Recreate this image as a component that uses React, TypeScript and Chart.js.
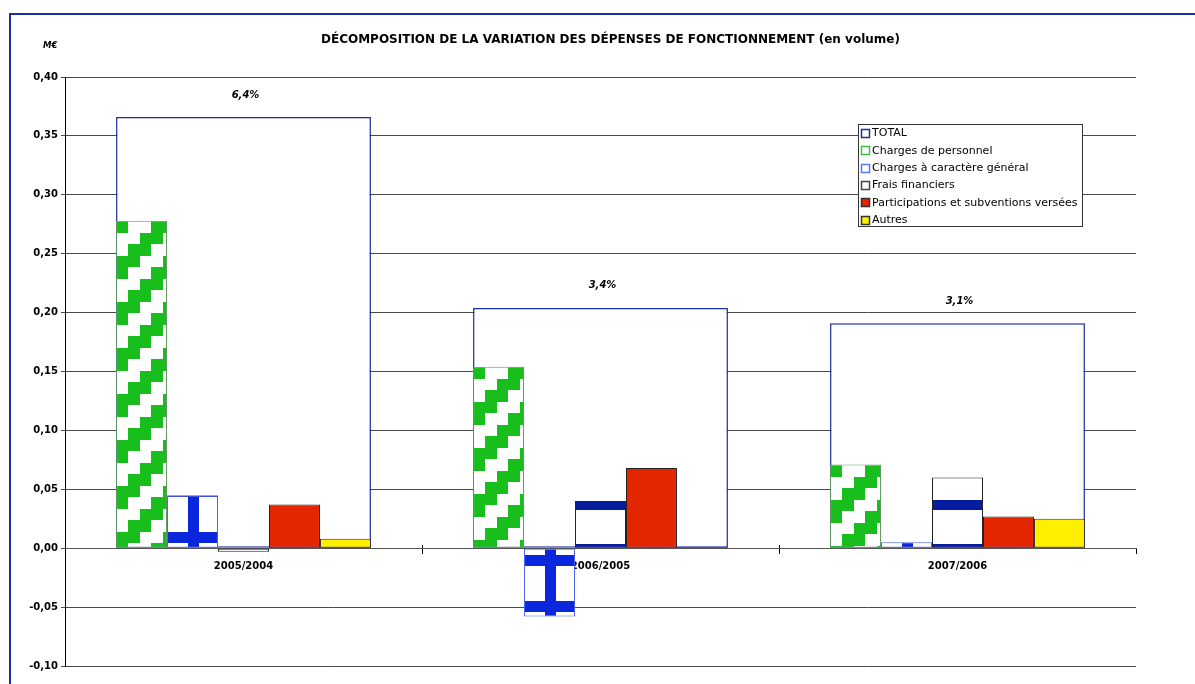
import React, { useEffect, useRef } from 'react';
import { Chart, registerables } from 'chart.js';
Chart.register(...registerables);

const categories = ['2005/2004', '2006/2005', '2007/2006'];
const totalValues = [0.366, 0.204, 0.191];
const totalLabels = ['6,4%', '3,4%', '3,1%'];
const personnelValues = [0.278, 0.154, 0.071];
const generalValues = [0.045, -0.058, 0.005];
const fraisValues = [-0.003, 0.04, 0.06];
const participationsValues = [0.037, 0.068, 0.027];
const autresValues = [0.008, 0.001, 0.025];
const seriesNames = [
  'TOTAL',
  'Charges de personnel',
  'Charges à caractère général',
  'Frais financiers',
  'Participations et subventions versées',
  'Autres',
];
const yMin = -0.1;
const yMax = 0.4;
const yStep = 0.05;
const titleText = 'DÉCOMPOSITION DE LA VARIATION DES DÉPENSES DE FONCTIONNEMENT (en volume)';
const unitText = 'M€';

const NAVY = '#1b2ea3';
const GREEN = '#18bf1c';
const BLUE = '#0b27dd';
const DARKNAVY = '#061c9e';
const RED = '#e42600';
const YELLOW = '#fff000';
const FONT = '"DejaVu Sans", Verdana, sans-serif';

function makeTile(w: number, h: number, draw: (g: CanvasRenderingContext2D) => void) {
  const c = document.createElement('canvas');
  c.width = w;
  c.height = h;
  const g = c.getContext('2d')!;
  g.fillStyle = '#ffffff';
  g.fillRect(0, 0, w, h);
  draw(g);
  return c;
}

export default function App() {
  const ref = useRef<HTMLCanvasElement | null>(null);

  useEffect(() => {
    document.body.style.margin = '0';
    const canvas = ref.current!;

    const tiles: Record<string, HTMLCanvasElement> = {
      stairs: makeTile(46, 46, (g) => {
        g.fillStyle = GREEN;
        const rows = [0, 12, 23, 35, 46];
        const starts = [35, 24, 12, 1];
        for (let r = 0; r < 4; r++) {
          const y0 = rows[r];
          const h = rows[r + 1] - rows[r];
          g.fillRect(starts[r], y0, 23, h);
          g.fillRect(starts[r] - 46, y0, 23, h);
        }
      }),
      cross: makeTile(46, 46, (g) => {
        g.fillStyle = BLUE;
        g.fillRect(0, 30, 46, 11);
        g.fillRect(21, 0, 11, 46);
      }),
      hbands: makeTile(44, 44, (g) => {
        g.fillStyle = DARKNAVY;
        g.fillRect(0, 34, 44, 10);
      }),
    };

    const patternPlugin = {
      id: 'barPatterns',
      beforeDatasetDraw(chart: any, args: any) {
        const ds = chart.data.datasets[args.index];
        const kind = ds.patternKind;
        if (!kind) return;
        const tile = tiles[kind];
        args.meta.data.forEach((el: any) => {
          const p = el.getProps(['x', 'y', 'base', 'width'], true);
          const left = p.x - p.width / 2;
          const top = Math.min(p.y, p.base);
          const bottom = Math.max(p.y, p.base);
          let ty = top;
          if (kind === 'cross') ty = bottom;
          if (kind === 'hbands') ty = p.y > p.base ? top + 20 : p.base + 6;
          const pat = chart.ctx.createPattern(tile, 'repeat');
          pat.setTransform(new DOMMatrix([1, 0, 0, 1, Math.round(left), Math.round(ty)]));
          el.options = Object.assign({}, el.options, { backgroundColor: pat });
        });
      },
    };

    const overlayPlugin = {
      id: 'overlay',
      afterDraw(chart: any) {
        const ctx = chart.ctx as CanvasRenderingContext2D;
        ctx.save();
        // outer frame
        ctx.strokeStyle = NAVY;
        ctx.lineWidth = 2;
        ctx.strokeRect(10, 14, 1300, 800);
        // title
        ctx.fillStyle = '#000';
        ctx.font = `bold 12px ${FONT}`;
        ctx.textAlign = 'left';
        ctx.textBaseline = 'middle';
        ctx.fillText(titleText, 321, 40);
        // unit
        ctx.font = `italic bold 8.5px ${FONT}`;
        ctx.fillText(unitText, 43, 46);
        // total labels
        const meta = chart.getDatasetMeta(0);
        ctx.font = `italic bold 10px ${FONT}`;
        ctx.textAlign = 'center';
        meta.data.forEach((el: any, i: number) => {
          const p = el.getProps(['x', 'y'], true);
          ctx.fillText(totalLabels[i], p.x + 2, p.y - 22);
        });
        // legend
        const lx = 858.5, ly = 124.5, lw = 224, lh = 102;
        ctx.fillStyle = '#fff';
        ctx.fillRect(lx, ly, lw, lh);
        ctx.strokeStyle = '#333';
        ctx.lineWidth = 1;
        ctx.strokeRect(lx, ly, lw, lh);
        const markers = [
          { fill: '#fff', stroke: NAVY },
          { fill: '#fff', stroke: '#3cc43c' },
          { fill: '#fff', stroke: '#5a78ff' },
          { fill: '#fff', stroke: '#444' },
          { fill: RED, stroke: '#333' },
          { fill: YELLOW, stroke: '#333' },
        ];
        ctx.font = `11px ${FONT}`;
        ctx.textAlign = 'left';
        seriesNames.forEach((name, i) => {
          const cy = 133 + i * 17.35;
          const m = markers[i];
          ctx.fillStyle = m.fill;
          ctx.fillRect(861.5, Math.round(cy) - 3.5, 8, 8);
          ctx.strokeStyle = m.stroke;
          ctx.lineWidth = 1.5;
          ctx.strokeRect(861.5, Math.round(cy) - 3.5, 8, 8);
          ctx.fillStyle = '#000';
          ctx.fillText(name, 872, cy + 0.5);
        });
        // x-axis tick marks crossing the axis line
        const xs = chart.scales.x;
        const y0 = chart.scales.y.getPixelForValue(0);
        ctx.strokeStyle = '#000';
        ctx.lineWidth = 1;
        for (let i = 1; i < categories.length; i++) {
          const px = Math.round((xs.getPixelForValue(i - 1) + xs.getPixelForValue(i)) / 2) + 0.5;
          ctx.beginPath();
          ctx.moveTo(px, y0 - 3);
          ctx.lineTo(px, y0);
          ctx.stroke();
        }
        ctx.restore();
      },
    };

    const common = {
      categoryPercentage: 0.714,
      barPercentage: 1,
      borderWidth: 1,
      borderSkipped: false,
      grouped: true,
      order: 0,
    };

    const chart = new Chart(canvas, {
      type: 'bar',
      data: {
        labels: categories,
        datasets: [
          {
            label: seriesNames[0],
            data: totalValues,
            backgroundColor: '#ffffff',
            borderColor: NAVY,
            borderWidth: 1.5,
            borderSkipped: false,
            categoryPercentage: 0.714,
            barPercentage: 1,
            grouped: false,
            order: 1,
          },
          {
            ...common,
            label: seriesNames[1],
            data: personnelValues,
            backgroundColor: GREEN,
            borderColor: '#5f9a5f',
            patternKind: 'stairs',
          },
          {
            ...common,
            label: seriesNames[2],
            data: generalValues,
            backgroundColor: BLUE,
            borderColor: '#4a62f0',
            patternKind: 'cross',
          },
          {
            ...common,
            label: seriesNames[3],
            data: fraisValues,
            backgroundColor: '#ffffff',
            borderColor: '#222',
            patternKind: 'hbands',
          },
          {
            ...common,
            label: seriesNames[4],
            data: participationsValues,
            backgroundColor: RED,
            borderColor: '#222',
          },
          {
            ...common,
            label: seriesNames[5],
            data: autresValues,
            backgroundColor: YELLOW,
            borderColor: '#333',
          },
        ] as any,
      },
      options: {
        responsive: false,
        animation: false,
        devicePixelRatio: 1,
        layout: { padding: { left: 0, top: 77, right: 59, bottom: 18 } },
        plugins: {
          legend: { display: false },
          title: { display: false },
          tooltip: { enabled: false },
        },
        scales: {
          x: {
            type: 'category',
            position: { y: 0 } as any,
            z: 1,
            offset: true,
            grid: {
              display: true,
              drawOnChartArea: false,
              drawTicks: true,
              tickLength: 5,
              color: '#000',
              offset: true,
            },
            border: { display: true, color: '#555', width: 1 },
            ticks: {
              color: '#000',
              font: { family: FONT, size: 10, weight: 'bold' },
              padding: 7,
              maxRotation: 0,
              autoSkip: false,
            },
          },
          y: {
            min: yMin,
            max: yMax,
            ticks: {
              stepSize: yStep,
              color: '#000',
              padding: 3,
              font: { family: FONT, size: 10, weight: 'bold' },
              callback: (v: any) => Number(v).toFixed(2).replace('.', ','),
            },
            grid: {
              color: '#4a4a4a',
              lineWidth: 1,
              tickLength: 4,
              drawTicks: true,
            },
            border: { display: true, color: '#000', width: 1 },
            afterFit: (s: any) => {
              s.width = 65;
            },
          },
        },
      } as any,
      plugins: [patternPlugin, overlayPlugin],
    });

    return () => chart.destroy();
  }, []);

  return (
    <div style={{ width: 1195, height: 684, position: 'relative', background: '#fff' }}>
      <canvas ref={ref} width={1195} height={684} style={{ display: 'block' }} />
    </div>
  );
}
